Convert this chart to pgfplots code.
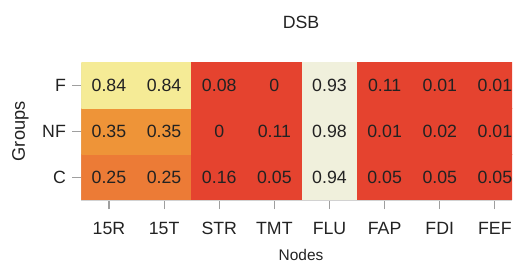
\documentclass[border=0pt]{standalone}
\usepackage{fontspec}
\setmainfont{Liberation Sans}
\usepackage{pgfplots}
\usepackage{pgfplotstable}
\pgfplotsset{compat=1.18}
\definecolor{cred}{HTML}{E5432F}
\definecolor{c25}{HTML}{EC7B36}
\definecolor{c35}{HTML}{EE9438}
\definecolor{c84}{HTML}{F5EB96}
\definecolor{ccream}{HTML}{F0F0DC}
\definecolor{txt}{HTML}{222222}
\pgfplotstableread{
x y v
0 0 0.25
1 0 0.25
2 0 0.16
3 0 0.05
4 0 0.94
5 0 0.05
6 0 0.05
7 0 0.05
0 1 0.35
1 1 0.35
2 1 0
3 1 0.11
4 1 0.98
5 1 0.01
6 1 0.02
7 1 0.01
0 2 0.84
1 2 0.84
2 2 0.08
3 2 0
4 2 0.93
5 2 0.11
6 2 0.01
7 2 0.01
}\heat
\begin{document}
\begin{tikzpicture}
\useasboundingbox (0,0) rectangle (518bp,263bp);
\begin{axis}[
  at={(81.4bp,63bp)}, anchor=south west,
  scale only axis, width=430.6bp, height=137.3bp,
  xmin=-0.5, xmax=7.31, ymin=-0.5, ymax=2.5,
  enlargelimits=false,
  /pgf/number format/assume math mode=true,
  axis x line=bottom, axis y line=left,
  axis line style={-, draw=gray!35, line width=0.8pt},
  xtick={0,...,7}, xticklabels={15R,15T,STR,TMT,FLU,FAP,FDI,FEF},
  ytick={0,1,2}, yticklabels={C,NF,F},
  tick align=outside, major tick length=9bp,
  tick style={draw=gray!75, line width=1.1pt},
  ticklabel style={font=\fontsize{17.8}{20}\selectfont, text=txt},
  xticklabel style={yshift=-10bp},
  yticklabel style={xshift=-3bp},
  colormap={heat}{color(0pt)=(cred) color(20pt)=(cred) color(25pt)=(c25) color(35pt)=(c35) color(84pt)=(c84) color(93pt)=(ccream) color(100pt)=(ccream)},
  point meta min=0, point meta max=1,
  title={DSB},
  title style={at={(axis description cs:0.51,1.202)}, anchor=base, font=\fontsize{17.8}{20}\selectfont, text=txt},
  xlabel={Nodes},
  xlabel style={at={(axis description cs:0.51,-0.442)}, anchor=base, font=\fontsize{15.5}{18}\selectfont, text=txt},
  ylabel={Groups},
  ylabel style={at={(axis description cs:-0.131,0.5)}, anchor=base, rotate=0, font=\fontsize{18.3}{21}\selectfont, text=txt},
]
\addplot[matrix plot*, mesh/cols=8, mesh/rows=3, point meta=explicit] table[x=x, y=y, meta=v] {\heat};
\addplot[draw=none, mark=none, point meta=explicit,
  nodes near coords={\pgfmathprintnumber[fixed,precision=2,assume math mode=true]{\pgfplotspointmeta}},
  nodes near coords style={anchor=center, font=\fontsize{17.8}{20}\selectfont, text=txt}]
  table[x=x, y=y, meta=v] {\heat};
\end{axis}
\end{tikzpicture}
\end{document}
